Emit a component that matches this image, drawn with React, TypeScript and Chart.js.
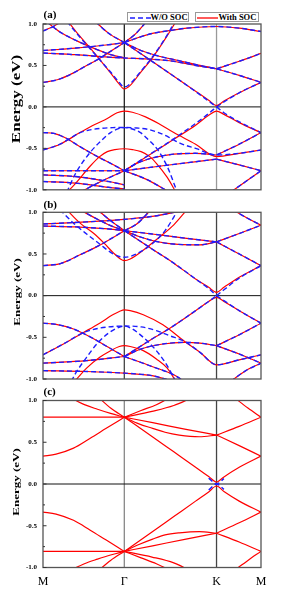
import React, { useEffect, useRef } from "react";
import { Chart, registerables } from "chart.js";
Chart.register(...registerables);

type Band = number[][];

// k-path positions (M=0 … M=100)
const G = 37.3;
const KP = 79.6;
const kTickValues = [0, G, KP, 100];
const kTickLabels = ["M", "Γ", "K", "M"];
const majorTicks = [-1, -0.5, 0, 0.5, 1];
const minorTicks = [-0.75, -0.25, 0.25, 0.75];
const legendLabels = ["W/O SOC", "With SOC"];
const panelLabels = ["(a)", "(b)", "(c)"];
const yTitle = "Energy (eV)";

// ---------- panel (a) ----------
const aShared: Band[] = [
  [[0, 0.296], [7, 0.33], [14, 0.41], [20, 0.5], [25, 0.57], [31, 0.67], [G, 0.776]],
  [[0, 0.68], [15, 0.71], [30, 0.75], [G, 0.776]],
  [[0, 0.65], [15, 0.63], [30, 0.6], [G, 0.59], [50, 0.575], [60, 0.55], [70, 0.5], [KP, 0.46]],
  [[0, 0.916], [4, 0.96], [8.5, 1.03]],
  [[1.5, 1.03], [8, 0.9], [16, 0.79], [24, 0.7], [31, 0.63], [G, 0.59]],
  [[24, 1.03], [30, 0.89], [G, 0.776]],
  [[G, 0.776], [43, 0.83], [50.7, 0.89], [58, 0.92], [66, 0.95], [KP, 0.97], [90, 0.95], [100, 0.91]],
  [[G, 0.776], [42, 0.87], [47.5, 1.03]],
  [[G, 0.776], [45, 0.68], [52, 0.62], [62, 0.56], [72, 0.5], [KP, 0.46]],
  [[KP, 0.46], [90, 0.55], [100, 0.645]],
  [[KP, 0.46], [90, 0.38], [100, 0.296]],
  [[0, -0.31], [5, -0.32], [10, -0.37], [17, -0.48], [25, -0.6], [31, -0.68], [G, -0.77]],
  [[G, -0.77], [44, -0.67], [51, -0.61], [60, -0.57], [70, -0.56], [KP, -0.58]],
  [[G, -0.77], [55, -0.71], [KP, -0.63]],
  [[KP, -0.58], [90, -0.45], [100, -0.31]],
  [[KP, -0.63], [90, -0.7], [100, -0.77]],
  [[0, -0.77], [20, -0.77], [G, -0.77]],
  [[0, -0.82], [15, -0.84], [30, -0.9], [G, -0.94]],
  [[0, -0.9], [15, -0.92], [30, -0.97], [G, -0.99]],
  [[17, -1.03], [25, -0.92], [G, -0.77]],
  [[G, -0.77], [48, -0.88], [58, -1.03]],
  [[86, -1.03], [93, -0.9], [100, -0.77]],
];
const aSoc: Band[] = [
  [[11.5, 1.03], [16, 0.88], [22, 0.7], [27, 0.54], [31, 0.41], [34.5, 0.29], [G, 0.216], [40, 0.26], [44.6, 0.41], [50.7, 0.61], [56.8, 0.85], [61, 1.03]],
  [[G, 0.776], [50, 0.55], [60, 0.37], [70, 0.19], [76, 0.08], [KP, 0.016], [83, 0.07], [90, 0.17], [100, 0.296]],
  [[0, -0.52], [7.8, -0.45], [17, -0.31], [24, -0.21], [29.5, -0.14], [34, -0.07], [G, -0.05], [41, -0.065], [47, -0.12], [53, -0.2], [60, -0.31], [70, -0.45], [KP, -0.6], [90, -0.56], [100, -0.52]],
  [[G, -0.77], [50, -0.56], [60, -0.39], [70, -0.22], [76, -0.1], [KP, -0.05], [83, -0.09], [90, -0.19], [100, -0.31]],
  [[10.9, -1.03], [14, -0.95], [21.8, -0.71], [26, -0.6], [29.5, -0.54], [33, -0.515], [G, -0.505], [41, -0.515], [45, -0.54], [49, -0.6], [52, -0.68], [57, -0.85], [61, -1.03]],
];
const aNoSoc: Band[] = [
  [[11, 1.03], [16, 0.87], [22, 0.69], [27, 0.54], [31, 0.42], [34.5, 0.31], [G, 0.24], [40, 0.28], [44.6, 0.42], [50.7, 0.62], [56.8, 0.86], [60.5, 1.03]],
  [[G, 0.776], [50, 0.55], [60, 0.37], [70, 0.185], [76, 0.07], [KP, 0.0]],
  [[KP, 0.0], [83, 0.06], [90, 0.17], [100, 0.296]],
  [[G, -0.77], [50, -0.555], [60, -0.385], [70, -0.2], [76, -0.08], [KP, 0.0]],
  [[KP, 0.0], [83, -0.07], [90, -0.18], [100, -0.31]],
  [[0, -0.52], [7.8, -0.45], [17, -0.31], [21, -0.28], [26, -0.26], [32, -0.25], [G, -0.248], [43, -0.255], [48, -0.27], [53, -0.31], [58, -0.37], [63, -0.44], [70, -0.5], [KP, -0.58], [90, -0.56], [100, -0.52]],
  [[10.9, -1.03], [15, -0.8], [21.6, -0.55], [27, -0.4], [31, -0.31], [35, -0.26], [G, -0.25], [40, -0.26], [44.7, -0.31], [48.5, -0.4], [52.4, -0.51], [57, -0.72], [61.6, -1.03]],
];

// ---------- panel (b) ----------
const bShared: Band[] = [
  [[0, 0.36], [8, 0.385], [17, 0.49], [25.6, 0.6], [31, 0.68], [G, 0.78]],
  [[0, 0.86], [20, 0.885], [G, 0.915], [50, 0.95], [66, 1.03]],
  [[0, 0.835], [15, 0.825], [30, 0.8], [G, 0.78]],
  [[25, 1.03], [31, 0.9], [G, 0.78]],
  [[17, 1.03], [24, 0.93], [31, 0.84], [G, 0.78]],
  [[G, 0.78], [43, 0.86], [49.5, 1.03]],
  [[G, 0.78], [50, 0.74], [65, 0.69], [KP, 0.645]],
  [[G, 0.78], [44, 0.71], [52, 0.65], [62, 0.615], [72, 0.61], [KP, 0.645]],
  [[KP, 0.645], [90, 0.745], [100, 0.845]],
  [[KP, 0.645], [90, 0.5], [100, 0.36]],
  [[87, 1.03], [93, 0.94], [100, 0.845]],
  [[0, -0.33], [6, -0.345], [14, -0.4], [22, -0.5], [30, -0.62], [G, -0.73]],
  [[G, -0.73], [45, -0.64], [55, -0.58], [65, -0.56], [72, -0.57], [KP, -0.6]],
  [[KP, -0.6], [90, -0.47], [100, -0.33]],
  [[KP, -0.6], [90, -0.7], [100, -0.81]],
  [[0, -0.81], [20, -0.78], [G, -0.73]],
  [[0, -0.9], [20, -0.91], [G, -0.93], [50, -0.96], [60, -1.03]],
  [[G, -0.73], [50, -0.85], [60, -0.95], [65, -1.03]],
  [[86, -1.03], [93, -0.9], [100, -0.81]],
];
const bSoc: Band[] = [
  [[10.9, 1.03], [17, 0.87], [23.2, 0.748], [28, 0.63], [32.4, 0.51], [35.5, 0.44], [G, 0.42], [40, 0.44], [46.1, 0.548], [53.7, 0.708], [60, 0.85], [66, 1.03]],
  [[G, 0.78], [50, 0.56], [60, 0.39], [70, 0.2], [76, 0.1], [KP, 0.04], [83, 0.1], [90, 0.22], [100, 0.36]],
  [[0, -0.71], [10, -0.57], [18, -0.45], [26, -0.33], [32, -0.23], [35, -0.19], [G, -0.17], [40, -0.18], [46, -0.23], [55, -0.35], [65, -0.55], [72, -0.68], [KP, -0.83], [90, -0.77], [100, -0.71]],
  [[G, -0.73], [50, -0.52], [60, -0.36], [70, -0.18], [76, -0.07], [KP, -0.02], [83, -0.07], [90, -0.18], [100, -0.33]],
  [[14.5, -1.03], [20, -0.87], [26, -0.74], [31, -0.66], [35, -0.61], [G, -0.6], [40, -0.61], [46, -0.66], [52, -0.76], [57, -0.87], [61, -1.03]],
];
const bNoSoc: Band[] = [
  [[7.8, 1.03], [14, 0.87], [20, 0.74], [26, 0.62], [31, 0.52], [35, 0.47], [G, 0.46], [40, 0.47], [45, 0.53], [50, 0.62], [56, 0.78], [62, 1.03]],
  [[G, 0.78], [50, 0.56], [60, 0.39], [70, 0.2], [76, 0.085], [KP, 0.0]],
  [[KP, 0.0], [83, 0.07], [90, 0.21], [100, 0.36]],
  [[G, -0.73], [50, -0.52], [60, -0.36], [70, -0.18], [76, -0.07], [KP, 0.0]],
  [[KP, 0.0], [83, -0.06], [90, -0.18], [100, -0.33]],
  [[0, -0.71], [10, -0.57], [18, -0.45], [24, -0.4], [30, -0.375], [G, -0.365], [45, -0.375], [52, -0.42], [58, -0.48], [65, -0.55], [72, -0.68], [KP, -0.83], [90, -0.77], [100, -0.71]],
  [[13, -1.03], [15, -0.93], [20, -0.74], [25, -0.57], [30, -0.45], [34, -0.39], [G, -0.365], [41, -0.4], [46, -0.5], [51, -0.63], [56, -0.8], [61, -1.03]],
];

// ---------- panel (c) ----------
const cShared: Band[] = [];
const cSoc: Band[] = [
  [[0, 0.334], [6, 0.358], [14, 0.43], [21.5, 0.546], [29, 0.667], [G, 0.8]],
  [[0, 0.8], [G, 0.8]],
  [[12.8, 1.03], [19, 0.95], [25, 0.895], [31, 0.845], [G, 0.8]],
  [[25.7, 1.03], [31, 0.91], [G, 0.8]],
  [[G, 0.8], [45, 0.88], [52, 0.95], [58, 1.03]],
  [[G, 0.8], [50, 0.87], [60, 0.94], [68, 1.03]],
  [[G, 0.8], [50.3, 0.735], [65.6, 0.654], [KP, 0.586]],
  [[G, 0.8], [44, 0.72], [50.3, 0.667], [56, 0.62], [62.5, 0.586], [71.7, 0.566], [KP, 0.586]],
  [[G, 0.8], [50, 0.57], [60, 0.385], [70, 0.2], [76, 0.09], [KP, 0.024], [83, 0.085], [90, 0.2], [100, 0.334]],
  [[KP, 0.586], [90, 0.69], [100, 0.8]],
  [[KP, 0.586], [90, 0.46], [100, 0.334]],
  [[88, 1.03], [94, 0.91], [100, 0.8]],
  [[0, -0.337], [6, -0.36], [14, -0.435], [21.5, -0.55], [29, -0.672], [G, -0.807]],
  [[0, -0.807], [G, -0.807]],
  [[12.8, -1.03], [19, -0.955], [25, -0.9], [31, -0.85], [G, -0.807]],
  [[25.7, -1.03], [31, -0.915], [G, -0.807]],
  [[G, -0.807], [45, -0.885], [52, -0.955], [58, -1.03]],
  [[G, -0.807], [50, -0.875], [60, -0.945], [67, -1.03]],
  [[G, -0.807], [50.3, -0.74], [65.6, -0.66], [KP, -0.59]],
  [[G, -0.807], [44, -0.725], [50.3, -0.66], [56, -0.61], [62.5, -0.585], [71.7, -0.57], [KP, -0.59]],
  [[G, -0.807], [50, -0.575], [60, -0.39], [70, -0.205], [76, -0.095], [KP, -0.024], [83, -0.09], [90, -0.205], [100, -0.337]],
  [[KP, -0.59], [90, -0.695], [100, -0.807]],
  [[KP, -0.59], [90, -0.465], [100, -0.337]],
  [[88, -1.03], [94, -0.915], [100, -0.807]],
];
const cNoSoc: Band[] = [
  [[76, 0.07], [KP, 0.0], [83, 0.065]],
  [[76, -0.07], [KP, 0.0], [83, -0.065]],
];

const FONT = "'Liberation Serif', 'Times New Roman', serif";
const RED = "#ff0000";
const BLUE = "#1c1cff";

interface PanelSpec {
  top: number;
  height: number;
  pad: { top: number; bottom: number; right: number };
  shared: Band[];
  soc: Band[];
  noSoc: Band[];
  gColor: string;
  kColor: string;
  showX: boolean;
}

const panels: PanelSpec[] = [
  { top: 0, height: 200, pad: { top: 24, bottom: 9, right: 30 }, shared: aShared, soc: aSoc, noSoc: aNoSoc, gColor: "#222", kColor: "#999", showX: false },
  { top: 200, height: 190, pad: { top: 12.3, bottom: 11, right: 30 }, shared: bShared, soc: bSoc, noSoc: bNoSoc, gColor: "#444", kColor: "#444", showX: false },
  { top: 390, height: 213, pad: { top: 10.5, bottom: 5.5, right: 30 }, shared: cShared, soc: cSoc, noSoc: cNoSoc, gColor: "#888", kColor: "#444", showX: true },
];

function dataset(band: Band, color: string, dashed: boolean, order: number) {
  return {
    data: band.map(([x, y]) => ({ x, y })),
    borderColor: color,
    borderWidth: dashed ? 1.4 : 1.2,
    borderDash: dashed ? [5, 3] : [],
    pointRadius: 0,
    fill: false,
    cubicInterpolationMode: "monotone" as const,
    order,
  };
}

function decorPlugin(gColor: string, kColor: string) {
  return {
    id: "decor",
    beforeDatasetsDraw(chart: any) {
      const { ctx, chartArea: a, scales } = chart;
      ctx.save();
      ctx.lineWidth = 1.3;
      [[G, gColor], [KP, kColor]].forEach(([v, c]) => {
        const px = scales.x.getPixelForValue(v as number);
        ctx.strokeStyle = c as string;
        ctx.beginPath();
        ctx.moveTo(px, a.top);
        ctx.lineTo(px, a.bottom);
        ctx.stroke();
      });
      const py = scales.y.getPixelForValue(0);
      ctx.strokeStyle = "#111";
      ctx.lineWidth = 1;
      ctx.beginPath();
      ctx.moveTo(a.left, py);
      ctx.lineTo(a.right, py);
      ctx.stroke();
      ctx.restore();
    },
    afterDatasetsDraw(chart: any) {
      const { ctx, chartArea: a, scales } = chart;
      ctx.save();
      ctx.strokeStyle = "#555";
      ctx.lineWidth = 1.3;
      ctx.strokeRect(a.left, a.top, a.right - a.left, a.bottom - a.top);
      ctx.lineWidth = 1;
      ctx.strokeStyle = "#333";
      majorTicks.forEach((v) => {
        const py = scales.y.getPixelForValue(v);
        ctx.beginPath();
        ctx.moveTo(a.left, py);
        ctx.lineTo(a.left + 3.5, py);
        ctx.stroke();
      });
      minorTicks.forEach((v) => {
        const py = scales.y.getPixelForValue(v);
        ctx.beginPath();
        ctx.moveTo(a.left, py);
        ctx.lineTo(a.left + 2, py);
        ctx.stroke();
      });
      ctx.restore();
    },
  };
}

function buildChart(canvas: HTMLCanvasElement, p: PanelSpec) {
  const red = [...p.shared, ...p.soc].map((b) => dataset(b, RED, false, 1));
  const blue = [...p.shared, ...p.noSoc].map((b) => dataset(b, BLUE, true, 0));
  const xScale: any = {
    type: "linear",
    min: 0,
    max: 100,
    display: p.showX,
    grid: { display: false, drawTicks: false },
    border: { display: false },
    afterBuildTicks: (scale: any) => {
      scale.ticks = kTickValues.map((v) => ({ value: v }));
    },
    ticks: {
      autoSkip: false,
      maxRotation: 0,
      padding: 7,
      color: "#000",
      font: { family: FONT, size: 12 },
      callback: (_v: any, i: number) => kTickLabels[i],
    },
  };
  if (p.showX) {
    xScale.afterFit = (scale: any) => {
      scale.height = 30;
    };
  }
  return new Chart(canvas, {
    type: "line",
    data: { datasets: [...blue, ...red] as any },
    options: {
      animation: false,
      responsive: false,
      devicePixelRatio: 1,
      layout: { padding: { top: p.pad.top, bottom: p.pad.bottom, right: p.pad.right, left: 0 } },
      plugins: { legend: { display: false }, tooltip: { enabled: false } },
      events: [],
      scales: {
        x: xScale,
        y: {
          type: "linear",
          min: -1,
          max: 1,
          grid: { display: false, drawTicks: false },
          border: { display: false },
          afterFit: (scale: any) => {
            scale.width = 43;
          },
          afterBuildTicks: (scale: any) => {
            scale.ticks = majorTicks.map((v) => ({ value: v }));
          },
          ticks: {
            padding: 6,
            color: "#000",
            font: { family: FONT, size: 7, weight: "bold" },
            callback: (v: any) => Number(v).toFixed(1),
          },
        },
      } as any,
    },
    plugins: [decorPlugin(p.gColor, p.kColor)],
  });
}

const labelTops = [9.3, 198.5, 386.3];
const titleSpecs = [
  { cx: 16, cy: 99, size: 17, sx: 0.72 },
  { cx: 16.5, cy: 292, size: 13, sx: 0.7 },
  { cx: 16, cy: 482, size: 13, sx: 0.7 },
];

export default function App() {
  const r0 = useRef<HTMLCanvasElement>(null);
  const r1 = useRef<HTMLCanvasElement>(null);
  const r2 = useRef<HTMLCanvasElement>(null);
  const refs = [r0, r1, r2];

  useEffect(() => {
    const charts = panels.map((p, i) => buildChart(refs[i].current as HTMLCanvasElement, p));
    return () => charts.forEach((c) => c.destroy());
  }, []);

  return (
    <div style={{ position: "absolute", left: 0, top: 0, width: 291, height: 603, background: "#fff", fontFamily: FONT, overflow: "hidden" }}>
      {panels.map((p, i) => (
        <canvas
          key={i}
          ref={refs[i]}
          width={291}
          height={p.height}
          style={{ position: "absolute", left: 0, top: p.top, width: 291, height: p.height }}
        />
      ))}
      {panelLabels.map((t, i) => (
        <div key={t} style={{ position: "absolute", left: 43.5, top: labelTops[i], fontSize: 11, lineHeight: "11px", fontWeight: "bold", whiteSpace: "nowrap" }}>
          {t}
        </div>
      ))}
      {titleSpecs.map((s, i) => (
        <div
          key={i}
          style={{
            position: "absolute",
            left: s.cx,
            top: s.cy,
            fontSize: s.size,
            lineHeight: 1,
            fontWeight: "bold",
            whiteSpace: "nowrap",
            transform: `translate(-50%, -50%) scaleX(${s.sx}) rotate(-90deg)`,
          }}
        >
          {yTitle}
        </div>
      ))}
      {/* legend */}
      <div style={{ position: "absolute", left: 126.5, top: 12, width: 62.5, height: 10, border: "1px solid #999", boxSizing: "border-box", background: "#fff" }}>
        <svg width={22} height={8} style={{ position: "absolute", left: 2, top: 0.5 }}>
          <line x1={0} y1={4} x2={21} y2={4} stroke={BLUE} strokeWidth={1.4} strokeDasharray="5 3" />
        </svg>
        <span style={{ position: "absolute", left: 23, top: 0, fontSize: 8.5, lineHeight: "8px", fontWeight: "bold", whiteSpace: "nowrap" }}>{legendLabels[0]}</span>
      </div>
      <div style={{ position: "absolute", left: 195, top: 12, width: 63.5, height: 10, border: "1px solid #999", boxSizing: "border-box", background: "#fff" }}>
        <svg width={22} height={8} style={{ position: "absolute", left: 1, top: 0.5 }}>
          <line x1={0} y1={4} x2={21} y2={4} stroke={RED} strokeWidth={1.3} />
        </svg>
        <span style={{ position: "absolute", left: 22.5, top: 0, fontSize: 8.5, lineHeight: "8px", fontWeight: "bold", whiteSpace: "nowrap" }}>{legendLabels[1]}</span>
      </div>
    </div>
  );
}
